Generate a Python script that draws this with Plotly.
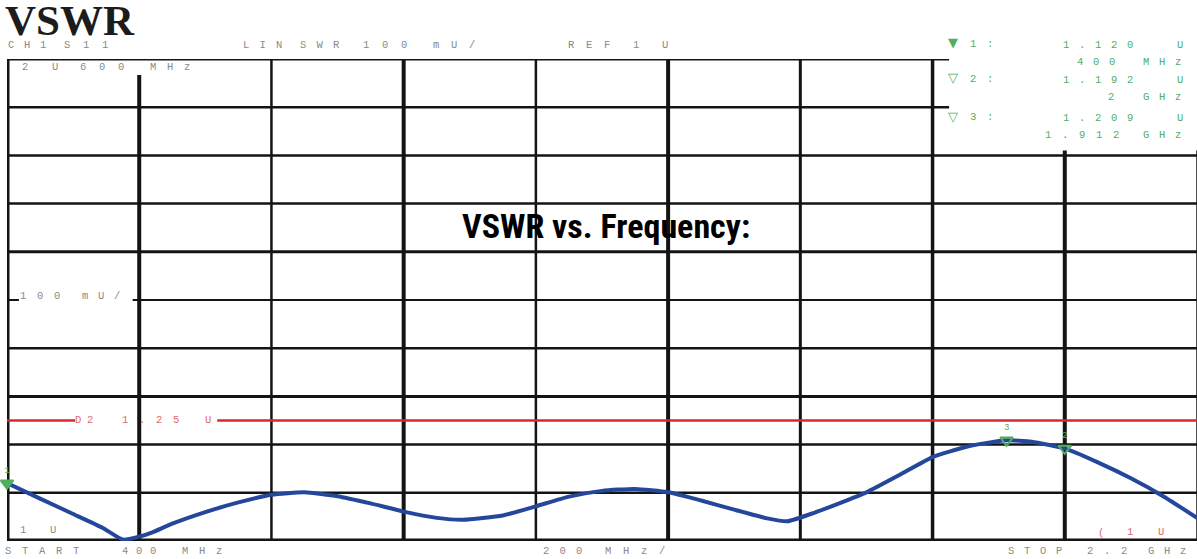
import plotly.graph_objects as go

# ---------------- data ----------------
freq_mhz = [400, 450, 500, 545, 575, 600, 620, 650, 700, 750, 800, 850, 900, 950, 1000,
            1050, 1090, 1150, 1200, 1250, 1300, 1350, 1400, 1450, 1500, 1550, 1580,
            1620, 1700, 1750, 1800, 1850, 1880, 1912, 1950, 2000, 2050, 2100, 2150, 2200]
vswr = [1.120, 1.088, 1.056, 1.027, 1.003, 1.009, 1.018, 1.036, 1.060, 1.080, 1.096, 1.101,
        1.093, 1.078, 1.061, 1.048, 1.044, 1.053, 1.072, 1.092, 1.104, 1.108, 1.101,
        1.084, 1.065, 1.047, 1.041, 1.058, 1.101, 1.137, 1.174, 1.195, 1.203, 1.209,
        1.206, 1.192, 1.163, 1.130, 1.092, 1.048]

marker_names = ["1", "2", "3"]
marker_freq = [400, 2000, 1912]
marker_vswr = [1.120, 1.192, 1.209]
marker_readout_value = ["1.120", "1.192", "1.209"]
marker_readout_freq = [("400", "MHz"), ("2", "GHz"), ("1.912", "GHz")]

limit_vswr = 1.25
start_mhz, stop_mhz, step_mhz = 400, 2200, 200
ref_u, top_u, div_u = 1.0, 2.0, 0.1

# ---------------- geometry helpers ----------------
W, H = 1197, 559
L, R, T, B = 7, 0, 59, 18
PW, PH = W - L - R, H - T - B

GRAY = "#8a8a8a"
GREEN = "#4fae5f"
RED_TXT = "#de6a6a"
MONO = "Liberation Mono, DejaVu Sans Mono, monospace"

annotations = []


def label(s, x, y, pitch, color=GRAY, size=10.5, family=MONO):
    ls = pitch - 0.6 * size
    annotations.append(dict(
        x=(x - L) / PW, y=(H - B - y) / PH, xref="paper", yref="paper",
        text=f'<span style="letter-spacing:{ls:.1f}px">{s}</span>',
        showarrow=False, xanchor="left", yanchor="middle", xshift=-2,
        font=dict(family=family, size=size, color=color)))


# header
label("CH1", 8, 45, 16)
label("S11", 64, 45, 19)
label("LIN", 243, 45, 16.5)
label("SWR", 300, 45, 16.5)
label("100", 363, 45, 19)
label("mU/", 433, 45, 18)
label("REF", 568, 45, 18)
label("1", 633, 45, 16)
label("U", 662, 45, 16)

# inside plot
label("2", 22, 67, 16)
label("U", 52, 67, 16)
label("600", 80, 67, 19)
label("MHz", 150, 67, 17)
label("100", 20, 296, 17)
label("mU/", 82, 296, 16)
label("D2", 75, 420, 12, color=RED_TXT)
label("1.25", 122, 420, 17, color=RED_TXT)
label("U", 205, 420, 16, color=RED_TXT)
label("1", 20, 530, 16)
label("U", 50, 530, 16)
label("(", 1098, 533, 16, color=RED_TXT)
label("1", 1127, 532, 16, color=RED_TXT)
label("U", 1158, 532, 16, color=RED_TXT)

# bottom
label("START", 5, 551, 17)
label("400", 122, 551, 14)
label("MHz", 182, 551, 17)
label("200", 543, 551, 16.5)
label("MHz/", 605, 551, 18)
label("STOP", 1008, 551, 16)
label("2.2", 1087, 551, 17)
label("GHz", 1148, 551, 16)

# marker readout
rows_y = [(43, 62), (78, 97), (116, 135)]
freq_x = {"400": 1077, "2": 1108, "1.912": 1045}
for i, name in enumerate(marker_names):
    ya, yb = rows_y[i]
    tri = "\u25bc" if i == 0 else "\u25bd"
    annotations.append(dict(
        x=(948 - L) / PW, y=(H - B - ya) / PH, xref="paper", yref="paper",
        text=tri, showarrow=False, xanchor="left", yanchor="middle", xshift=-2,
        font=dict(family="DejaVu Sans", size=13, color=GREEN)))
    label(name + ":", 970, ya + 1, 17, color=GREEN)
    label(marker_readout_value[i], 1063, ya + 2, 16, color=GREEN)
    label("U", 1177, ya + 2, 16, color=GREEN)
    fnum, funit = marker_readout_freq[i]
    label(fnum, freq_x[fnum], yb, 16 if fnum != "1.912" else 17, color=GREEN)
    label(funit, 1143, yb, 16, color=GREEN)

# big titles
annotations.append(dict(
    x=(5 - L) / PW, y=(H - B - 20) / PH, xref="paper", yref="paper",
    text="<b>VSWR</b>", showarrow=False, xanchor="left", yanchor="middle", xshift=-2,
    font=dict(family="Liberation Serif, Times New Roman, serif", size=43, color="#1c1c1c")))
annotations.append(dict(
    x=(606 - L) / PW, y=(H - B - 226) / PH, xref="paper", yref="paper",
    text="<b>VSWR vs. Frequency:</b>", showarrow=False, xanchor="center", yanchor="middle",
    font=dict(family="Liberation Sans Narrow, Roboto Condensed, DejaVu Sans Condensed, Arial Narrow, sans-serif",
              size=34, color="#000000")))

# ---------------- grid shapes ----------------
shapes = []
BLACK = "#141414"


def seg(x0, y0, x1, y1, w, color=BLACK):
    shapes.append(dict(type="line", xref="x", yref="y", x0=x0, y0=y0, x1=x1, y1=y1,
                       line=dict(color=color, width=w), layer="below"))


vlines = list(range(start_mhz + step_mhz, stop_mhz, step_mhz))
vwidth = {600: 4, 800: 2.5, 1000: 4, 1200: 2.5, 1400: 4, 1600: 3, 1800: 3.5, 2000: 4}
vtop = {600: 1.967, 2000: 1.81}
for f in vlines:
    seg(f, ref_u, f, vtop.get(f, top_u), vwidth[f])

nh = round((top_u - ref_u) / div_u)
for k in range(1, nh):
    v = round(ref_u + k * div_u, 2)
    if abs(v - 1.5) < 1e-6:
        seg(start_mhz, v, 418, v, 2)
        seg(590, v, stop_mhz, v, 2)
    elif abs(v - 1.9) < 1e-6:
        seg(start_mhz, v, 1825, v, 2.5)
    else:
        seg(start_mhz, v, stop_mhz, v, 2.5 if k % 3 else 3)

# borders
seg(start_mhz, ref_u, start_mhz, top_u, 5)
seg(start_mhz, ref_u, stop_mhz, ref_u, 5)
seg(start_mhz, top_u, 1825, top_u, 3)
seg(stop_mhz, ref_u, stop_mhz, 1.81, 1.5)

# limit line (with gap for its label)
seg(start_mhz, limit_vswr, 503, limit_vswr, 2.5, color="#d62a2a")
seg(718, limit_vswr, stop_mhz, limit_vswr, 2.5, color="#d62a2a")

# ---------------- traces ----------------
fig = go.Figure()
fig.add_trace(go.Scatter(
    x=freq_mhz, y=vswr, mode="lines",
    line=dict(color="#24479b", width=4, shape="spline", smoothing=0.5),
    hoverinfo="skip", showlegend=False))
fig.add_trace(go.Scatter(
    x=marker_freq, y=marker_vswr, mode="markers+text", text=marker_names,
    textposition="top center", textfont=dict(family=MONO, size=9, color=GREEN),
    marker=dict(symbol=["triangle-down", "triangle-down-open", "triangle-down-open"],
                size=11, color=GREEN, line=dict(color=GREEN, width=2)),
    cliponaxis=False, hoverinfo="skip", showlegend=False))

fig.update_layout(
    width=W, height=H, margin=dict(l=L, r=R, t=T, b=B),
    paper_bgcolor="white", plot_bgcolor="white",
    xaxis=dict(range=[start_mhz, stop_mhz], visible=False, fixedrange=True),
    yaxis=dict(range=[ref_u, top_u], visible=False, fixedrange=True),
    shapes=shapes, annotations=annotations, showlegend=False)

fig.write_html("out.html", config={"displayModeBar": False},
               post_script="document.body.style.margin='0';document.body.style.padding='0';"
                           "document.body.style.overflow='hidden';")
